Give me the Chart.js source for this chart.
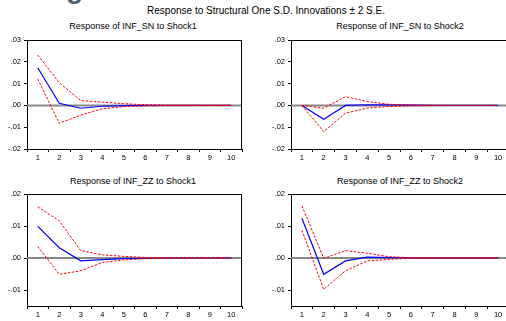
<!DOCTYPE html>
<html>
<head>
<meta charset="utf-8">
<script src="https://cdn.jsdelivr.net/npm/chart.js@4.4.1/dist/chart.umd.min.js"></script>
<style>
body { margin:0; background:#fff; }
#wrap { position:relative; width:506px; height:321px; overflow:hidden; font-family:"Liberation Sans", Arial, sans-serif; color:#000; }
#wrap canvas { position:absolute; }
.ttl { position:absolute; white-space:nowrap; line-height:1; transform:translateX(-50%); }
.head { font-size:10px; }
.sub { font-size:9px; }
#fig { position:absolute; left:66px; top:-25px; font-size:28px; font-weight:bold; line-height:1; color:#4f6072; }
</style>
</head>
<body>
<div id="wrap">
    <div id="fig">g</div>
    <div class="ttl head" style="left:266px; top:6px;">Response to Structural One S.D. Innovations ± 2 S.E.</div>
    <div class="ttl sub" style="left:133px; top:22px;">Response of INF_SN to Shock1</div>
    <div class="ttl sub" style="left:400px; top:22px;">Response of INF_SN to Shock2</div>
    <div class="ttl sub" style="left:133px; top:177px;">Response of INF_ZZ to Shock1</div>
    <div class="ttl sub" style="left:400px; top:177px;">Response of INF_ZZ to Shock2</div>
    <canvas id="snShock1Chart" width="250" height="133" style="left:0; top:30px;"></canvas>
    <canvas id="snShock2Chart" width="250" height="133" style="left:264px; top:30px;"></canvas>
    <canvas id="zzShock1Chart" width="250" height="136" style="left:0; top:184px;"></canvas>
    <canvas id="zzShock2Chart" width="250" height="136" style="left:264px; top:184px;"></canvas>
</div>
<script>
// periods after the shock
const periods = ['1', '2', '3', '4', '5', '6', '7', '8', '9', '10'];

// y axis ticks for the two rows
const snTicks = [-0.02, -0.01, 0, 0.01, 0.02, 0.03];
const zzTicks = [-0.01, 0, 0.01, 0.02];

// INF_SN responses
const snShock1 = [0.0173, 0.0010, -0.0013, -0.0004, -0.0001, 0, 0, 0, 0, 0];
const snShock1Upper = [0.0231, 0.0104, 0.0022, 0.0015, 0.0008, 0.0003, 0.0001, 0.0001, 0, 0];
const snShock1Lower = [0.0121, -0.0082, -0.0045, -0.0015, -0.0006, -0.0002, -0.0001, -0.0001, 0, 0];

const snShock2 = [0, -0.0064, 0.0000, 0.0003, 0.0002, 0.0001, 0, 0, 0, 0];
const snShock2Upper = [0, -0.0013, 0.0040, 0.0018, 0.0005, 0.0002, 0.0001, 0, 0, 0];
const snShock2Lower = [0, -0.0120, -0.0036, -0.0012, -0.0005, -0.0002, -0.0001, 0, 0, 0];

// INF_ZZ responses
const zzShock1 = [0.0099, 0.0032, -0.0009, -0.0005, -0.0002, -0.0001, 0, 0, 0, 0];
const zzShock1Upper = [0.0160, 0.0116, 0.0023, 0.0010, 0.0005, 0.0002, 0.0001, 0, 0, 0];
const zzShock1Lower = [0.0036, -0.0051, -0.0040, -0.0014, -0.0006, -0.0002, -0.0001, 0, 0, 0];

const zzShock2 = [0.0124, -0.0051, -0.0009, 0.0003, 0.0001, 0, 0, 0, 0, 0];
const zzShock2Upper = [0.0163, -0.0001, 0.0023, 0.0015, 0.0004, 0.0001, 0, 0, 0, 0];
const zzShock2Lower = [0.0087, -0.0098, -0.0040, -0.0009, -0.0004, -0.0001, 0, 0, 0, 0];

// gray zero line plus top/right edges of the plot box
const frame = {
    id: 'frame',
    beforeDatasetsDraw(chart) {
        const ctx = chart.ctx;
        const a = chart.chartArea;
        const y0 = chart.scales.y.getPixelForValue(0);
        ctx.save();
        ctx.strokeStyle = '#888888';
        ctx.lineWidth = 2;
        ctx.beginPath();
        ctx.moveTo(a.left, y0);
        ctx.lineTo(a.right, y0);
        ctx.stroke();
        ctx.strokeStyle = '#000';
        ctx.lineWidth = 1;
        ctx.beginPath();
        ctx.moveTo(a.left, a.top + 0.5);
        ctx.lineTo(a.right - 0.5, a.top + 0.5);
        ctx.lineTo(a.right - 0.5, a.bottom);
        ctx.stroke();
        ctx.restore();
    }
};

// ".03", ".00", "-.01" style labels
function fmt(v) {
    let s = (Math.round(v * 100) / 100).toFixed(2);
    if (s === '-0.00') s = '0.00';
    return s.replace('0.', '.');
}

function makePanel(id, resp, upper, lower, yMin, yMax, yTicks, padRight) {
    return new Chart(document.getElementById(id), {
        type: 'line',
        data: {
            labels: periods,
            datasets: [
                { data: upper, borderColor: '#ff0000', borderWidth: 1, borderDash: [2.5, 1.5] },
                { data: lower, borderColor: '#ff0000', borderWidth: 1, borderDash: [2.5, 1.5] },
                { data: resp, borderColor: '#0000ff', borderWidth: 1.2 }
            ]
        },
        options: {
            responsive: false,
            animation: false,
            layout: { padding: { top: 10, right: padRight, left: 0, bottom: 0 } },
            elements: { point: { radius: 0 }, line: { tension: 0 } },
            plugins: { legend: { display: false }, tooltip: { enabled: false } },
            scales: {
                x: {
                    offset: true,
                    grid: { offset: true, drawOnChartArea: false, tickLength: 3, color: '#000' },
                    border: { color: '#000', width: 1 },
                    ticks: { color: '#000', padding: 1, maxRotation: 0, autoSkip: false,
                             font: { family: 'Liberation Sans', size: 7.5 } },
                    afterFit: function(scale) { scale.height = 14; }
                },
                y: {
                    min: yMin,
                    max: yMax,
                    grid: { drawOnChartArea: false, tickLength: 3, color: '#000' },
                    border: { color: '#000', width: 1 },
                    ticks: { color: '#000', padding: 3, callback: fmt,
                             font: { family: 'Liberation Sans', size: 7.5 } },
                    afterBuildTicks: function(scale) {
                        scale.ticks = yTicks.map(function(v) { return { value: v }; });
                    },
                    afterFit: function(scale) { scale.width = 27; }
                }
            }
        },
        plugins: [frame]
    });
}

makePanel('snShock1Chart', snShock1, snShock1Upper, snShock1Lower, -0.02, 0.03, snTicks, 8);
makePanel('snShock2Chart', snShock2, snShock2Upper, snShock2Lower, -0.02, 0.03, snTicks, 5);
makePanel('zzShock1Chart', zzShock1, zzShock1Upper, zzShock1Lower, -0.015, 0.02, zzTicks, 8);
makePanel('zzShock2Chart', zzShock2, zzShock2Upper, zzShock2Lower, -0.015, 0.02, zzTicks, 5);
</script>
</body>
</html>
